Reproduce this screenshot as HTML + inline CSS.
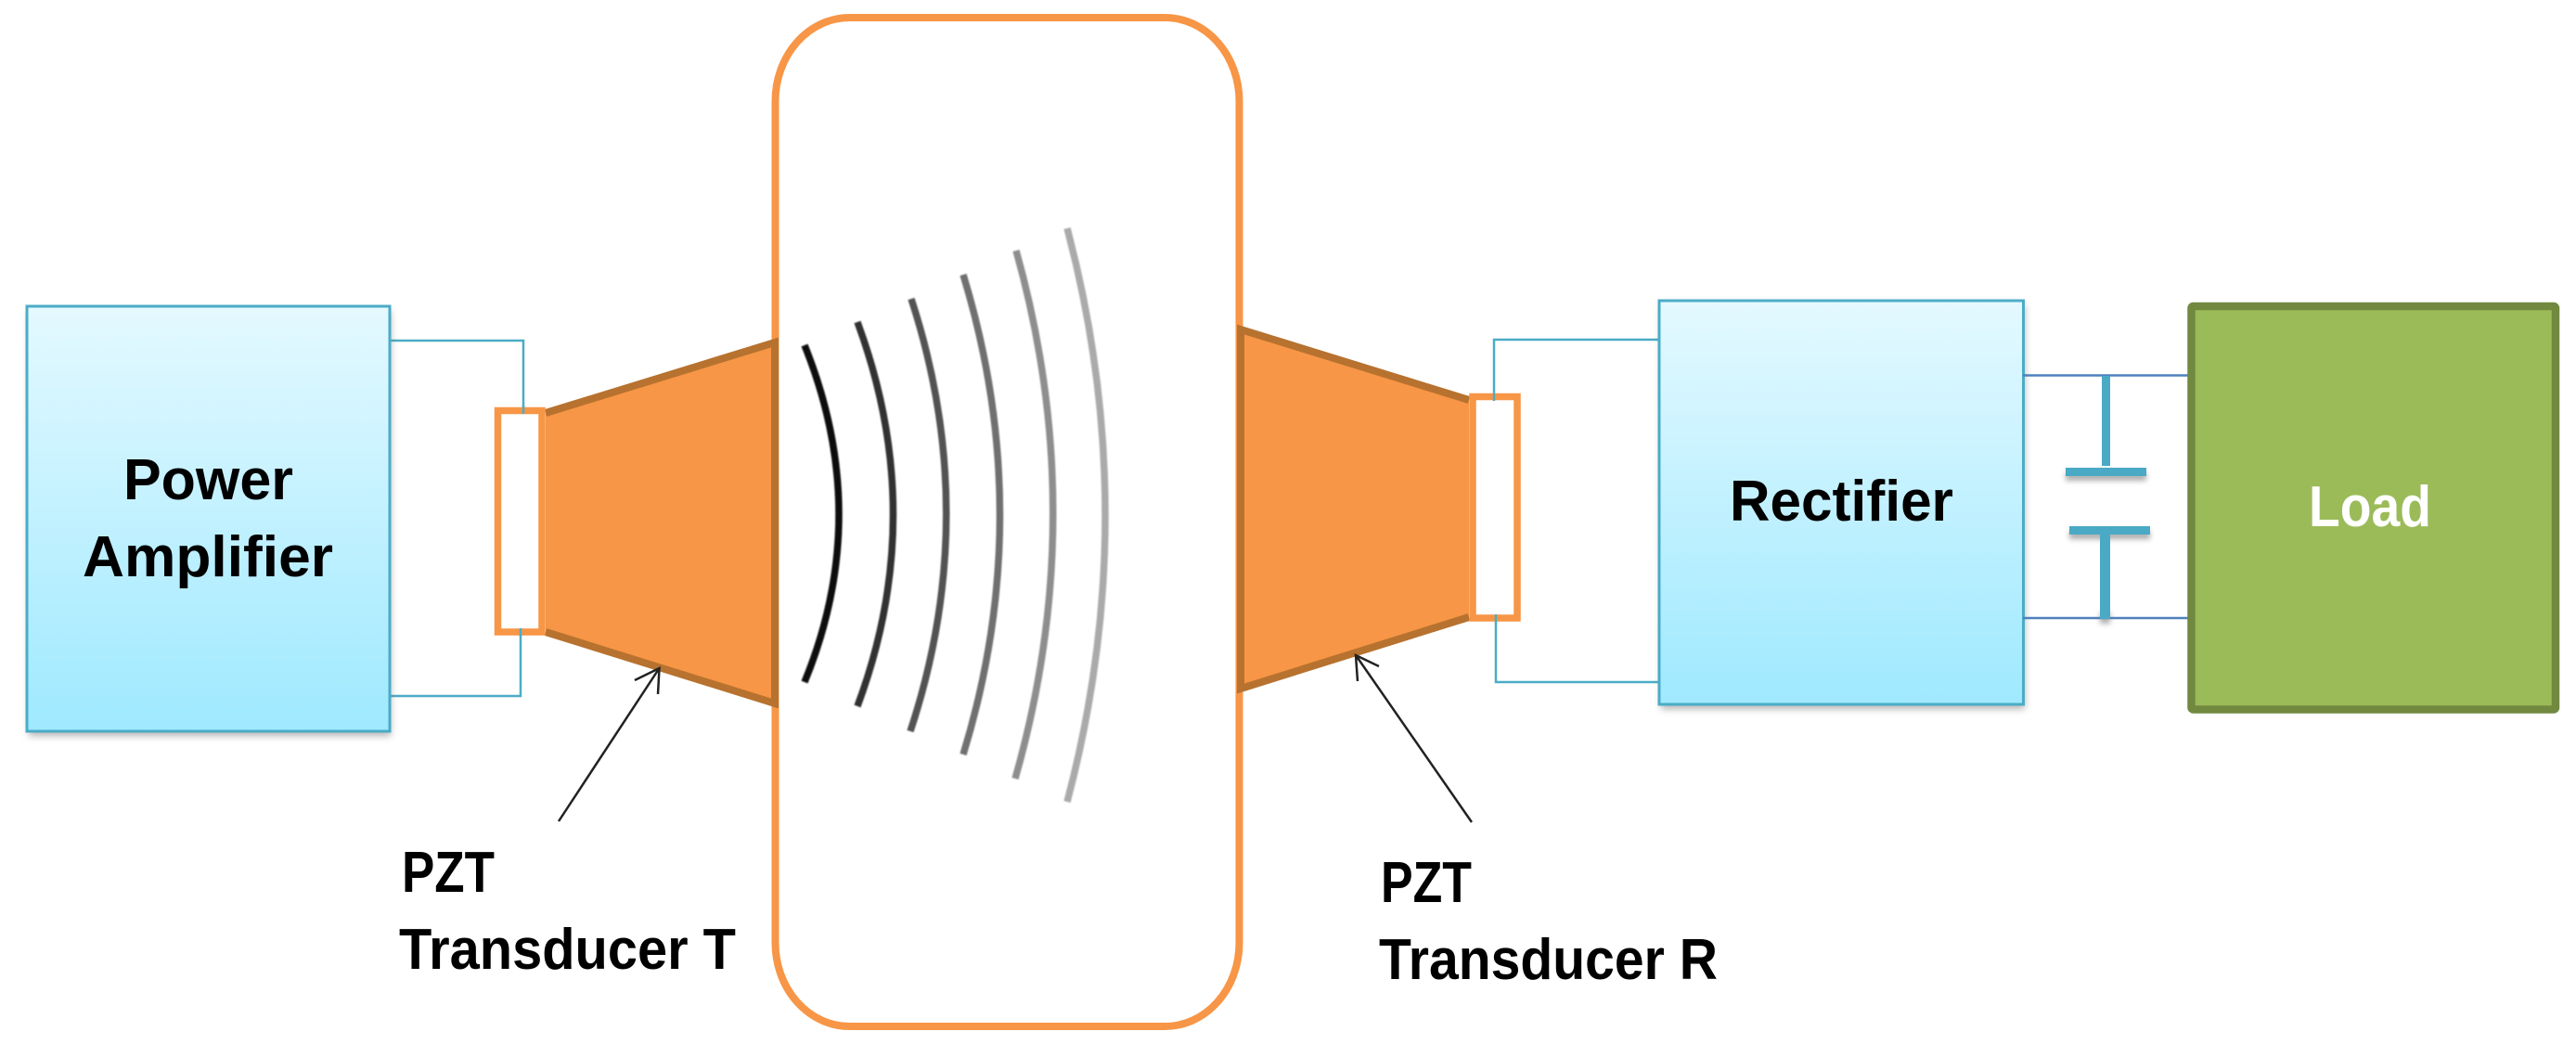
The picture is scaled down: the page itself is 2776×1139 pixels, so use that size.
<!DOCTYPE html>
<html><head><meta charset="utf-8"><style>
html,body{margin:0;padding:0;background:#fff;width:2776px;height:1139px;overflow:hidden}
svg{display:block}
text{font-family:"Liberation Sans",sans-serif;font-weight:bold;font-size:62px;fill:#000}
</style></head><body>
<svg xmlns="http://www.w3.org/2000/svg" width="2776" height="1139" viewBox="0 0 2776 1139">
<defs>
<linearGradient id="g" x1="0" y1="0" x2="0" y2="1"><stop offset="0" stop-color="#e4f9ff"/><stop offset="1" stop-color="#9fe9ff"/></linearGradient>
<filter id="s" x="-10%" y="-10%" width="120%" height="120%"><feGaussianBlur stdDeviation="4"/></filter>
<filter id="s2" x="-30%" y="-100%" width="160%" height="400%"><feGaussianBlur stdDeviation="3"/></filter>
<filter id="soft" x="-5%" y="-5%" width="110%" height="110%"><feGaussianBlur stdDeviation="0.8"/></filter>
</defs>
<!-- frame -->
<rect x="835.5" y="19" width="500" height="1087" rx="80" ry="90" fill="#fff" stroke="#f79646" stroke-width="8"/>
<!-- wires left -->
<g fill="none" stroke="#4bacc6" stroke-width="2.5">
<path d="M420 367H564V442"/><path d="M420 750H561V680"/>
<path d="M1787 366H1610V428"/><path d="M1787 735H1612V666"/>
</g>
<!-- power amplifier -->
<rect x="31" y="335" width="390" height="458" fill="#777" opacity=".55" filter="url(#s)"/>
<rect x="29" y="330" width="391" height="458" fill="url(#g)" stroke="#4bacc6" stroke-width="3"/>
<!-- rectifier -->
<rect x="1790" y="329" width="392" height="435" fill="#777" opacity=".55" filter="url(#s)"/>
<rect x="1788" y="324" width="392.5" height="435" fill="url(#g)" stroke="#4bacc6" stroke-width="3"/>
<!-- horns -->
<polygon points="588,445 835,369 835,758 588,681" fill="#f79646"/>
<path d="M588 445L835 369V758L588 681" fill="none" stroke="#b7722f" stroke-width="8"/>
<polygon points="1337,355 1583,431 1583,665 1337,742" fill="#f79646"/>
<path d="M1583 431L1337 355V742L1583 665" fill="none" stroke="#b7722f" stroke-width="8"/>
<!-- transducers -->
<rect x="536.5" y="442.5" width="47.5" height="238.5" fill="#fff" stroke="#f79646" stroke-width="7.5"/>
<rect x="1587" y="427.5" width="48" height="238.5" fill="#fff" stroke="#f79646" stroke-width="7.5"/>
<path d="M564 437V446M561 677V686M1610 424V432M1612 662V670" stroke="#4bacc6" stroke-width="2.5" fill="none"/>
<!-- waves -->
<g fill="none" stroke-width="7.5" filter="url(#soft)">
<path d="M867 372Q941 555 867 735" stroke="#0a0a0a"/>
<path d="M924 347Q1001 555 924 761" stroke="#333"/>
<path d="M982 322Q1058 555 981 788" stroke="#525252"/>
<path d="M1038 296Q1117 555 1038 813" stroke="#707070"/>
<path d="M1095 270Q1175 555 1094 839" stroke="#8e8e8e"/>
<path d="M1150 246Q1232 555 1150 864" stroke="#aaa"/>
</g>
<!-- pointer arrows -->
<g fill="none" stroke="#222" stroke-width="2.5">
<path d="M602 885L710.5 720M684 733L710.5 720L709 748"/>
<path d="M1586 886L1461 706M1486 718L1461 706L1463 734"/>
</g>
<!-- capacitor + load wires -->
<path d="M2180 404.5H2361M2180 666H2361" stroke="#4f81bd" stroke-width="2.5" fill="none"/>
<g fill="#777" opacity=".6" filter="url(#s2)">
<rect x="2226" y="509" width="87" height="9"/><rect x="2230" y="572" width="87" height="9"/><rect x="2263" y="660" width="11" height="12"/>
</g>
<g fill="#4aa9c5">
<rect x="2265" y="405" width="9" height="97"/>
<rect x="2226" y="504" width="87" height="9"/>
<rect x="2230" y="567" width="87" height="9"/>
<rect x="2263" y="576" width="11" height="91"/>
</g>
<!-- load -->
<rect x="2361.5" y="330" width="392.5" height="434.5" rx="2" fill="#9bbb59" stroke="#71893f" stroke-width="8.5"/>
<!-- labels -->
<text x="133" y="538" textLength="183" lengthAdjust="spacingAndGlyphs">Power</text>
<text x="89" y="621" textLength="270" lengthAdjust="spacingAndGlyphs">Amplifier</text>
<text x="1864" y="561" textLength="241" lengthAdjust="spacingAndGlyphs">Rectifier</text>
<text x="2488" y="567" textLength="132" lengthAdjust="spacingAndGlyphs" style="fill:#fff">Load</text>
<text x="433" y="961" textLength="100" lengthAdjust="spacingAndGlyphs">PZT</text>
<text x="430" y="1044" textLength="363" lengthAdjust="spacingAndGlyphs">Transducer T</text>
<text x="1488" y="972" textLength="98" lengthAdjust="spacingAndGlyphs">PZT</text>
<text x="1486" y="1055" textLength="365" lengthAdjust="spacingAndGlyphs">Transducer R</text>
</svg>
</body></html>
